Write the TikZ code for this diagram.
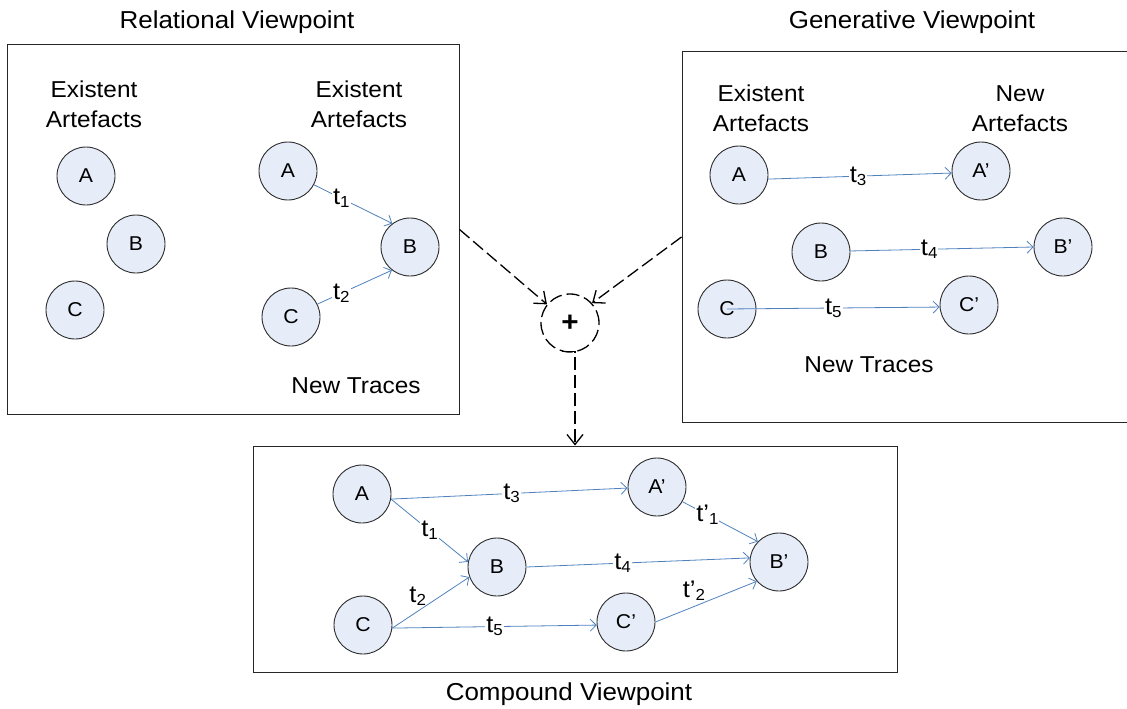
\documentclass[tikz,border=0pt]{standalone}
\usepackage{fontspec}
\setmainfont[FakeStretch=1.06]{Liberation Sans}
\usetikzlibrary{arrows.meta}
\definecolor{circfill}{RGB}{230,236,248}
\definecolor{arrblue}{RGB}{79,129,189}
\definecolor{circline}{RGB}{45,45,45}
\newcommand\tsub[1]{\raisebox{-3pt}{\fontsize{16}{16}\selectfont #1}}
\begin{document}
\begin{tikzpicture}[x=1pt,y=-1pt,
  art/.style={circle,draw=circline,fill=circfill,line width=0.9pt,minimum size=58pt,inner sep=0pt,font=\fontsize{20}{24}\selectfont},
  box/.style={draw=black!85,line width=1pt,rectangle,inner sep=0pt},
  titletext/.style={font=\fontsize{24.5}{28}\selectfont,inner sep=0pt},
  grouptext/.style={font=\fontsize{23}{30}\selectfont,align=center,inner sep=0pt},
  trace/.style={draw=arrblue,line width=0.8pt,-{Straight Barb[length=6pt,width=12pt]}},
  lab/.style={fill=white,inner sep=1pt,font=\fontsize{24}{28}\selectfont},
  conn/.style={draw=black,line width=1.3pt,dash pattern=on 13pt off 5pt,-{Straight Barb[length=10pt,width=16pt]}}]
\useasboundingbox (0,0) rectangle (1127,709);
% boxes
\node[box,minimum width=452pt,minimum height=369pt] (rel) at (233,229.5) {};
\node[box,minimum width=450pt,minimum height=370pt] (gen) at (907,237) {};
\node[box,minimum width=644pt,minimum height=226pt] (comp) at (575,559) {};
% titles
\node[titletext,anchor=base] (reltitle) at (237,29) {Relational Viewpoint};
\node[titletext,anchor=base] (gentitle) at (912,29) {Generative Viewpoint};
\node[titletext,anchor=base] (comptitle) at (569,700) {Compound Viewpoint};
% group texts
\node[grouptext] (relex1) at (94,104.7) {Existent\\Artefacts};
\node[grouptext] (relex2) at (359,104.7) {Existent\\Artefacts};
\node[grouptext,anchor=base] (relnew) at (356,393) {New Traces};
\node[grouptext] (genex) at (761,108.7) {Existent\\Artefacts};
\node[grouptext] (gennew) at (1020,108.7) {New\\Artefacts};
\node[grouptext,anchor=base] (gentr) at (869,372) {New Traces};
% relational circles
\node[art] (lA) at (86,176) {A};
\node[art] (lB) at (136,244) {B};
\node[art] (lC) at (75,310) {C};
\node[art] (rA) at (288,171) {A};
\node[art] (rB) at (410,247) {B};
\node[art] (rC) at (291,317) {C};
% generative circles
\node[art] (gA) at (739,175) {A};
\node[art] (gA2) at (981,171) {A’};
\node[art] (gB) at (821,252) {B};
\node[art] (gB2) at (1063,247) {B’};
\node[art] (gC) at (727,309) {C};
\node[art] (gC2) at (969,305) {C’};
% compound circles
\node[art] (cA) at (362,494) {A};
\node[art] (cA2) at (657,487) {A’};
\node[art] (cB) at (497,567) {B};
\node[art] (cB2) at (779,562) {B’};
\node[art] (cC) at (363,625) {C};
\node[art] (cC2) at (626,622) {C’};
% plus
\node[circle,draw=black,line width=1.3pt,dash pattern=on 13pt off 5pt,minimum size=58pt,inner sep=0pt,font=\fontsize{28}{30}\selectfont\bfseries] (plus) at (570,323) {+};
% relational traces
\draw[trace] (rA.-28) -- node[lab,pos=0.35] (l1) {t\tsub{1}} (rB.127);
\draw[trace] (rC.26) -- node[lab,pos=0.32] (l2) {t\tsub{2}} (rB.232);
% generative traces
\draw[trace] (gA.-8) -- node[lab,pos=0.49] (l3) {t\tsub{3}} (gA2.184);
\draw[trace] (gB.2) -- node[lab,pos=0.43] (l4) {t\tsub{4}} (gB2.180);
\draw[trace] (gC.center) -- node[lab,pos=0.5] (l5) {t\tsub{5}} (gC2.184);
% compound traces
\draw[trace] (cA.-10) -- node[lab,pos=0.51] (m3) {t\tsub{3}} (cA2.182);
\draw[trace] (cA.-10) -- node[lab,pos=0.5] (m1) {t\tsub{1}} (cB.170);
\draw[trace] (cC.-6) -- node[lab,pos=0.33,yshift=15pt,fill=none] (m2) {t\tsub{2}} (cB.200);
\draw[trace] (cC.-6) -- node[lab,pos=0.5] (m5) {t\tsub{5}} (cC2.186);
\draw[trace] (cB.0) -- node[lab,pos=0.43] (m4) {t\tsub{4}} (cB2.172);
\draw[trace] (cA2.-30) -- node[lab,pos=0.33] (m6) {t’\tsub{1}} (cB2.136);
\draw[trace] (cC2.0) -- node[lab,pos=0.38,yshift=16pt,fill=none] (m7) {t’\tsub{2}} (cB2.221);
% dashed connectors
\draw[conn] (rel.east) -- (plus.141);
\draw[conn] (gen.west) -- (plus.42);
\draw[conn] (plus.-105) -| (comp.north);
\end{tikzpicture}
\end{document}
